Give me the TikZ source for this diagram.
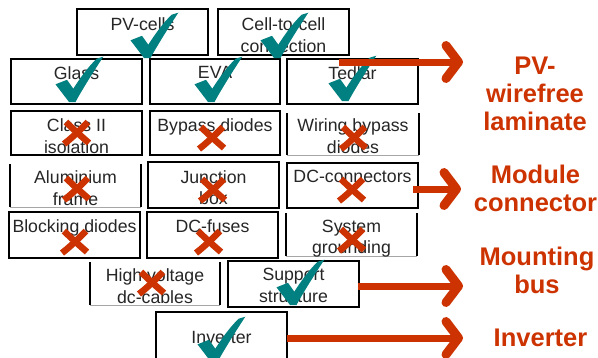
\documentclass[tikz,border=0pt]{standalone}
\usepackage{fontspec}
\setmainfont{Liberation Sans}
\definecolor{tealmark}{RGB}{0,128,128}
\definecolor{redmark}{RGB}{204,51,0}

% box: name, left, top, right, bottom (pixel-like units, y grows downwards)
\newcommand\cellbox[6][cell]{%
  \path ({(#3+#5)/2},{(#4+#6)/2})
    node[#1, minimum width={#5-#3}, minimum height={#6-#4}] (#2) {};}
% box with only its side edges and a faint bottom edge
\newcommand\sidebox[5]{%
  \cellbox[cellopen]{#1}{#2}{#3}{#4}{#5}%
  \draw[boxline] (#1.north west) -- (#1.south west);
  \draw[boxline] (#1.north east) -- (#1.south east);
  \draw[faintline] (#1.south west) -- (#1.south east);}
% tick mark, given by its lowest point
\newcommand\tickmark[2]{%
  \fill[tealmark, shift={(#1,#2)}]
    (-16.5,-17.7) -- (-5,-22.2) -- (1.3,-13.3)
    .. controls (10,-27) and (18,-37) .. (24.7,-43.3)
    -- (31.3,-45.3)
    .. controls (20,-28) and (10,-12) .. (3.5,0)
    -- (-3,0) -- cycle;}
% cross mark, given by its centre
\newcommand\crossmark[2]{%
  \begin{scope}[shift={(#1,#2)}]
    \draw[crossline] (-11,-11) .. controls (-3,-3) and (4,3) .. (12,10);
    \draw[crossline] (11,-11) .. controls (3,-3) and (-4,4) .. (-13,11);
  \end{scope}}

\tikzset{
  boxline/.style={line width=2pt, black},
  faintline/.style={line width=0.8pt, black!35},
  cell/.style={draw, line width=2pt, inner sep=0pt, outer sep=0pt, rectangle},
  cellopen/.style={inner sep=0pt, outer sep=0pt, rectangle},
  celltext/.style={anchor=north, inner sep=0pt, align=center,
    font=\fontsize{17.7}{21.8}\selectfont, text=black!85},
  crossline/.style={redmark, line width=6.5pt},
  arrline/.style={redmark, line width=7pt},
  chevron/.style={redmark, line width=9pt, line cap=round, line join=round},
  sidelabel/.style={anchor=north, inner sep=0pt, align=center, text=redmark,
    font=\bfseries\fontsize{25.5}{28}\selectfont},
}

\begin{document}
\begin{tikzpicture}[x=1pt, y=-1pt]
  \clip (0,0) rectangle (598,357);
  \fill[white] (0,0) rectangle (598,357);

  % component boxes
  \cellbox{pv}{77}{9}{208}{55}
  \cellbox{ctc}{218}{9}{349}{55}
  \cellbox{glass}{11}{59}{142}{104}
  \cellbox{eva}{150}{59}{280}{104}
  \cellbox{tedlar}{287}{59}{418}{104}
  \cellbox{classii}{11}{111}{142}{155}
  \cellbox{bypass}{150}{111}{280}{155}
  \sidebox{wiring}{287}{113}{419}{155}
  \sidebox{alu}{10}{164}{141}{207}
  \cellbox{jbox}{148}{162}{279}{208}
  \cellbox{dcconn}{287}{163}{418}{208}
  \cellbox{blocking}{9}{212}{140}{258}
  \cellbox{fuses}{147}{212}{278}{258}
  \sidebox{ground}{286}{213}{417}{256}
  \sidebox{hv}{90}{262}{220}{305}
  \cellbox{support}{228}{261}{359}{307}
  \cellbox{inverter}{156}{312}{287}{362}

  % box texts
  \node[celltext] (pv-t) at ([yshift=-8.5pt]pv.north) {PV-cells};
  \node[celltext] (ctc-t) at ([yshift=-8.5pt]ctc.north) {Cell-to-cell\\connection};
  \node[celltext] (glass-t) at ([yshift=-7pt]glass.north) {Glass};
  \node[celltext] (eva-t) at ([yshift=-7pt]eva.north) {EVA};
  \node[celltext] (tedlar-t) at ([yshift=-7pt]tedlar.north) {Tedlar};
  \node[celltext] (classii-t) at ([yshift=-7.5pt]classii.north) {Class II\\isolation};
  \node[celltext] (bypass-t) at ([yshift=-7.5pt]bypass.north) {Bypass diodes};
  \node[celltext] (wiring-t) at ([yshift=-5.5pt]wiring.north) {Wiring bypass\\diodes};
  \node[celltext] (alu-t) at ([yshift=-6.5pt]alu.north) {Aluminium\\frame};
  \node[celltext] (jbox-t) at ([yshift=-8pt]jbox.north) {Junction\\box};
  \node[celltext] (dcconn-t) at ([yshift=-7pt]dcconn.north) {DC-connectors};
  \node[celltext] (blocking-t) at ([yshift=-7pt]blocking.north) {Blocking diodes};
  \node[celltext] (fuses-t) at ([yshift=-7pt]fuses.north) {DC-fuses};
  \node[celltext] (ground-t) at ([yshift=-6.5pt]ground.north) {System\\grounding};
  \node[celltext] (hv-t) at ([yshift=-6.5pt]hv.north) {High voltage\\dc-cables};
  \node[celltext] (support-t) at ([yshift=-7pt]support.north) {Support\\structure};
  \node[celltext] (inverter-t) at ([yshift=-19.3pt]inverter.north) {Inverter};

  % kept parts
  \tickmark{147}{58}
  \tickmark{277}{58}
  \tickmark{72}{102}
  \tickmark{211}{102}
  \tickmark{345}{101}
  \tickmark{293}{305}
  \tickmark{214}{362}

  % removed parts
  \crossmark{77}{133}
  \crossmark{212}{138}
  \crossmark{354}{138}
  \crossmark{77}{189}
  \crossmark{213}{190}
  \crossmark{352}{190}
  \crossmark{75}{242}
  \crossmark{209}{242}
  \crossmark{352}{240}
  \crossmark{152}{283}

  % resulting building blocks
  \node[sidelabel] (laminate) at (535,56.7) {PV-\\wirefree\\laminate};
  \node[sidelabel] (modconn) at (535.5,165) {Module\\connector};
  \node[sidelabel] (mounting) at (537,246.7) {Mounting\\bus};
  \node[sidelabel] (invlabel) at (540.5,328.4) {Inverter};

  % arrows towards the building blocks
  \coordinate (a1s) at (339,62);   \coordinate (a1t) at (458.5,62);
  \coordinate (a2s) at (413,189);  \coordinate (a2t) at (456.5,189);
  \coordinate (a3s) at (358,286);  \coordinate (a3t) at (458.5,286);
  \coordinate (a4s) at (287,338);  \coordinate (a4t) at (458.5,338);
  \foreach \s/\t in {a1s/a1t, a2s/a2t, a3s/a3t, a4s/a4t}{
    \draw[arrline] (\s) -- ([xshift=-2pt]\t);
    \draw[chevron] ([shift={(-12.5,-16.5)}]\t) -- (\t) -- ([shift={(-12.5,16.5)}]\t);
  }
\end{tikzpicture}
\end{document}
